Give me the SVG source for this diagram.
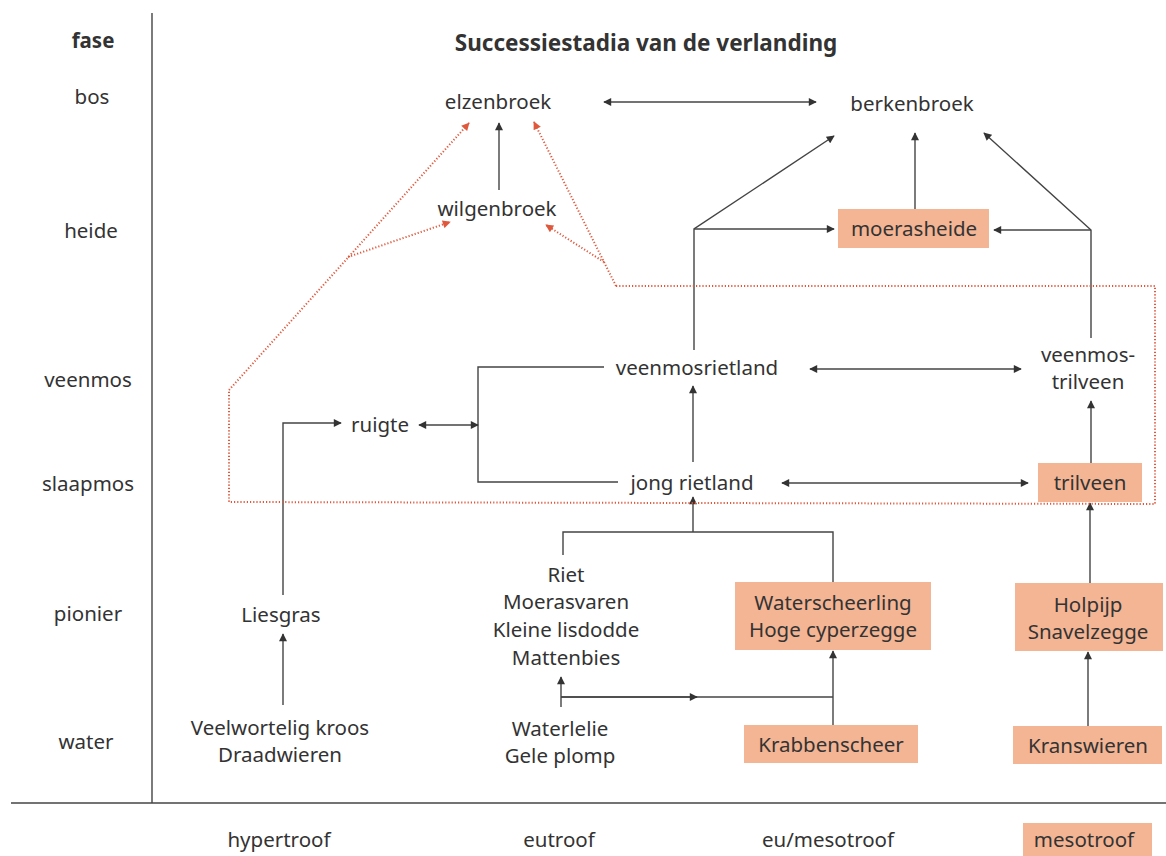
<svg xmlns="http://www.w3.org/2000/svg" width="1166" height="856" viewBox="0 0 1166 856">
<defs>
<style>
text{font-family:"Noto Sans","Open Sans",sans-serif;fill:#333;font-size:20.5px;text-anchor:middle}
.t{font-weight:bold;font-size:22.5px}
.f{font-weight:bold}
.ln{stroke:#444;stroke-width:1.4;fill:none}
.ar{marker-end:url(#ah)}
.dar{marker-start:url(#ah);marker-end:url(#ah)}
.red{stroke:#e0583c;stroke-width:2;stroke-dasharray:1.2 2;fill:none}
.rar{marker-end:url(#rh)}
.box{fill:#f3b593}
</style>
<marker id="ah" viewBox="0 0 10 10" refX="9" refY="5" markerWidth="9" markerHeight="8" markerUnits="userSpaceOnUse" orient="auto-start-reverse"><path d="M0,0 L10,5 L0,10 z" fill="#333"/></marker>
<marker id="rh" viewBox="0 0 10 10" refX="9" refY="5" markerWidth="9" markerHeight="8" markerUnits="userSpaceOnUse" orient="auto"><path d="M0,0 L10,5 L0,10 z" fill="#e0583c"/></marker>
</defs>
<rect width="1166" height="856" fill="#fff"/>
<g id="axes">
<line class="ln" x1="152" y1="13" x2="152" y2="803"/>
<line class="ln" x1="11" y1="803" x2="1166" y2="803"/>
<text class="f" x="93" y="48">fase</text>
<text x="92" y="104">bos</text>
<text x="91" y="238">heide</text>
<text x="88" y="387">veenmos</text>
<text x="88" y="491">slaapmos</text>
<text x="88" y="621">pionier</text>
<text x="86" y="749">water</text>
<text class="t" x="646" y="51">Successiestadia van de verlanding</text>
</g>
<g id="connectors">
<line class="ln dar" x1="604" y1="102" x2="816" y2="102"/>
<line class="ln ar" x1="499" y1="190" x2="499" y2="123"/>
<polyline class="ln ar" points="694,350 694,229 834,136"/>
<line class="ln ar" x1="694" y1="229" x2="834" y2="229"/>
<line class="ln ar" x1="915" y1="209" x2="915" y2="133"/>
<polyline class="ln ar" points="1091,338 1091,230 984,133"/>
<line class="ln ar" x1="1091" y1="230" x2="994" y2="230"/>
<line class="ln dar" x1="810" y1="369" x2="1021" y2="369"/>
<line class="ln ar" x1="1091" y1="463" x2="1091" y2="401"/>
<line class="ln dar" x1="782" y1="483" x2="1028" y2="483"/>
<line class="ln ar" x1="693" y1="462" x2="693" y2="386"/>
<polyline class="ln" points="604,367 478,367 478,482 618,482"/>
<line class="ln dar" x1="419" y1="425" x2="478" y2="425"/>
<polyline class="ln ar" points="283,595 283,423 341,423"/>
<line class="ln ar" x1="283" y1="705" x2="283" y2="634"/>
<polyline class="ln" points="563,555 563,532 833,532 833,582"/>
<line class="ln ar" x1="693" y1="532" x2="693" y2="497"/>
<line class="ln ar" x1="1090" y1="583" x2="1090" y2="503"/>
<line class="ln ar" x1="833" y1="725" x2="833" y2="651"/>
<line class="ln ar" x1="1088" y1="726" x2="1088" y2="652"/>
<line class="ln ar" x1="561" y1="707" x2="561" y2="677"/>
<line class="ln" x1="561" y1="697" x2="833" y2="697"/>
<line class="ln ar" x1="561" y1="697" x2="697" y2="697"/>
<polyline class="red" points="616,286 1155,286 1155,504 229,502 229,390"/>
<line class="red rar" x1="229" y1="390" x2="469" y2="123"/>
<line class="red rar" x1="348" y1="257" x2="450" y2="222"/>
<line class="red rar" x1="616" y1="286" x2="534" y2="122"/>
<line class="red rar" x1="604" y1="262" x2="546" y2="225"/>
</g>
<g id="elzenbroek"><text x="498" y="109">elzenbroek</text></g>
<g id="berkenbroek"><text x="912" y="111">berkenbroek</text></g>
<g id="wilgenbroek"><text x="497" y="216">wilgenbroek</text></g>
<g id="moerasheide"><rect class="box" x="838" y="209" width="151" height="39"/><text x="914" y="236">moerasheide</text></g>
<g id="veenmosrietland"><text x="697" y="375">veenmosrietland</text></g>
<g id="veenmostrilveen"><text x="1088" y="362">veenmos-</text><text x="1088" y="389">trilveen</text></g>
<g id="ruigte"><text x="380" y="432">ruigte</text></g>
<g id="jongrietland"><text x="692" y="490">jong rietland</text></g>
<g id="trilveen"><rect class="box" x="1038" y="463" width="104" height="39"/><text x="1090" y="490">trilveen</text></g>
<g id="liesgras"><text x="281" y="622">Liesgras</text></g>
<g id="riet"><text x="566" y="582">Riet</text><text x="566" y="609">Moerasvaren</text><text x="566" y="637">Kleine lisdodde</text><text x="566" y="665">Mattenbies</text></g>
<g id="waterscheerling"><rect class="box" x="735" y="582" width="196" height="68"/><text x="833" y="610">Waterscheerling</text><text x="833" y="637">Hoge cyperzegge</text></g>
<g id="holpijp"><rect class="box" x="1015" y="583" width="148" height="68"/><text x="1088" y="612">Holpijp</text><text x="1088" y="639">Snavelzegge</text></g>
<g id="kroos"><text x="280" y="735">Veelwortelig kroos</text><text x="280" y="762">Draadwieren</text></g>
<g id="waterlelie"><text x="560" y="736">Waterlelie</text><text x="560" y="763">Gele plomp</text></g>
<g id="krabbenscheer"><rect class="box" x="744" y="725" width="174" height="38"/><text x="831" y="752">Krabbenscheer</text></g>
<g id="kranswieren"><rect class="box" x="1013" y="726" width="149" height="38"/><text x="1088" y="753">Kranswieren</text></g>
<g id="trofie">
<text x="279" y="847">hypertroof</text>
<text x="559" y="847">eutroof</text>
<text x="828" y="847">eu/mesotroof</text>
<rect class="box" x="1023" y="823" width="129" height="33"/>
<text x="1084" y="847">mesotroof</text>
</g>
</svg>
